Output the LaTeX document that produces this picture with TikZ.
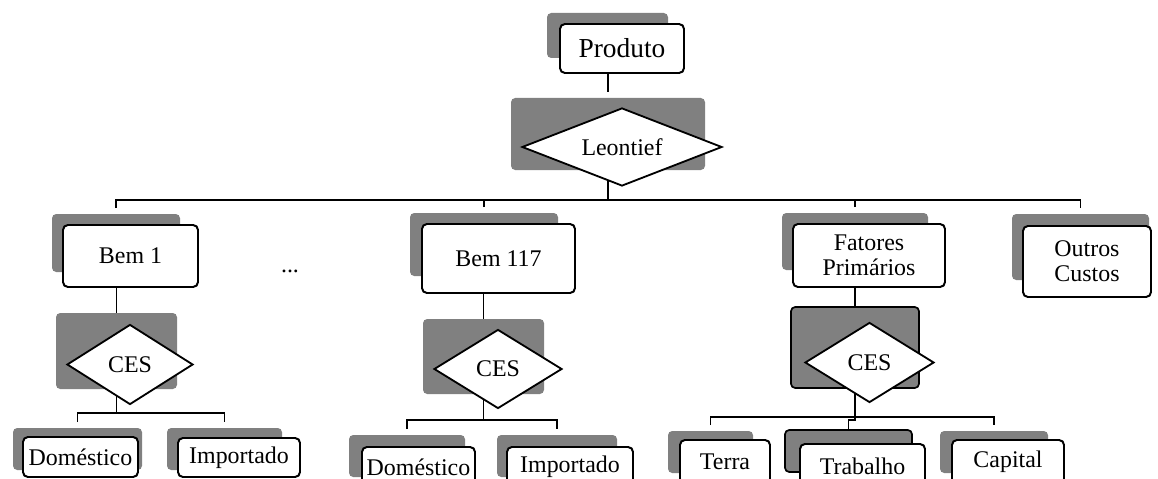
\documentclass[tikz,border=0pt]{standalone}
\usepackage{fontspec}
\setmainfont{Liberation Serif}
\usetikzlibrary{shapes.geometric,backgrounds}

\begin{document}
\begin{tikzpicture}[x=0.025cm,y=-0.025cm,
	wh/.style 2 args={minimum width=#1*0.025cm, minimum height=#2*0.025cm},
	backbox/.style={fill=gray, rounded corners=3pt, inner sep=0pt},
	darkbox/.style={backbox, draw=black, line width=1.2pt},
	box/.style={draw=black, fill=white, rounded corners=3.5pt, line width=1.4pt, inner sep=0pt, align=center, font=\fontsize{17}{17.5}\selectfont},
	choice/.style={diamond, aspect=2.5, draw=black, fill=white, line width=1.3pt, inner sep=0pt, font=\fontsize{17}{17.5}\selectfont},
	link/.style={line width=1.4pt}]
				\useasboundingbox (0,0) rectangle (1158,479);
				\clip (0,0) rectangle (1158,479);
				
				% Shadows
				\foreach \n/\x/\y/\w/\h in {prodsh/607.5/35.5/121/45, leonsh/608/134/194/72,
					bem1sh/116/243/128/58, ces1sh/116.5/351/121/76, dom1sh/77.5/449/129/42, imp1sh/224.5/449/115/42,
					bem117sh/484/244.5/148/63, ces2sh/483.5/356.5/121/75, dom2sh/407/456/116/42, imp2sh/557/456/120/42,
					fatsh/855/241.5/146/57, terrash/710.5/452/85/42, capsh/994/452/108/42,
					outsh/1080.5/247/137/66} {
					\node[backbox, wh={\w}{\h}] (\n) at (\x,\y) {};
				}
				\node[darkbox, wh={128}{81}] (ces3sh) at (855,347.5) {};
				\node[darkbox, wh={127}{42}] (trabsh) at (848.5,451) {};
				
				% Boxes
				\node[box, wh={124}{49}, font=\fontsize{19.5}{20}\selectfont] (prod) at (622,48.5) {Produto};
				\node[choice, wh={200}{78}] (leon) at (622,147) {Leontief};
				
				\node[box, wh={135}{62}] (bem1) at (130.5,256) {Bem 1};
				\node[choice, wh={126}{80}] (ces1) at (130,364.5) {CES};
				\node[box, wh={115}{40}] (dom1) at (80.5,457) {Doméstico};
				\node[box, wh={122}{39}] (imp1) at (239,457.5) {Importado};
				\node[font=\fontsize{17}{17.5}\selectfont] (dots) at (290,271) {...};
				
				\node[box, wh={153}{69}] (bem117) at (498.5,258.5) {Bem 117};
				\node[choice, wh={128}{79}] (ces2) at (498,369) {CES};
				\node[box, wh={113}{40}] (dom2) at (418.5,467) {Doméstico};
				\node[box, wh={126}{40}] (imp2) at (570,467) {Importado};
				
				\node[box, wh={152}{63}] (fat) at (869,255.5) {Fatores\\Primários};
				\node[choice, wh={129}{80}] (ces3) at (869.5,362.5) {CES};
				\node[box, wh={90}{44}] (terra) at (725,462) {Terra};
				\node[box, wh={125}{44}] (trab) at (862.5,466) {Trabalho};
				\node[box, wh={112}{44}] (cap) at (1008,462) {Capital};
				
				\node[box, wh={128}{71}] (out) at (1087,261.5) {Outros\\Custos};
				
				% Connectors
				\begin{scope}[on background layer]
					\coordinate (bus) at (608,200);
					\draw[link, shorten >=4pt] (leonsh.north |- prod.south) -- (leonsh.north);
					\draw[link] (leonsh.south) -- (bus);
					\draw[link, shorten <=4pt, shorten >=4pt] (bem1sh.north) |- (bus) -| (outsh.north);
					\foreach \n in {bem117sh, fatsh}
						\draw[link, shorten <=4pt] (\n.north) -- (\n.north |- bus);
					
					\draw[link] (bem1.south -| ces1sh.north) -- (ces1sh.north);
					\coordinate (bus1) at (116.5,413);
					\draw[link] (ces1sh.south) -- (bus1);
					\draw[link, shorten <=4pt, shorten >=4pt] (dom1sh.north) |- (bus1) -| (imp1sh.north);
					
					\draw[link] (bem117.south -| ces2sh.north) -- (ces2sh.north);
					\coordinate (bus2) at (483.5,420);
					\draw[link] (ces2sh.south) -- (bus2);
					\draw[link, shorten <=4pt, shorten >=4pt] (dom2sh.north) |- (bus2) -| (imp2sh.north);
					
					\draw[link] (fat.south -| ces3sh.north) -- (ces3sh.north);
					\coordinate (bus3) at (855,417);
					\draw[link] (ces3sh.south) -- (bus3);
					\draw[link, shorten <=4pt, shorten >=4pt] (terrash.north) |- (bus3) -| (capsh.north);
					\draw[link] (bus3) -- ++(0,3) -| (trabsh.north);
				\end{scope}
			\end{tikzpicture}
\end{document}
